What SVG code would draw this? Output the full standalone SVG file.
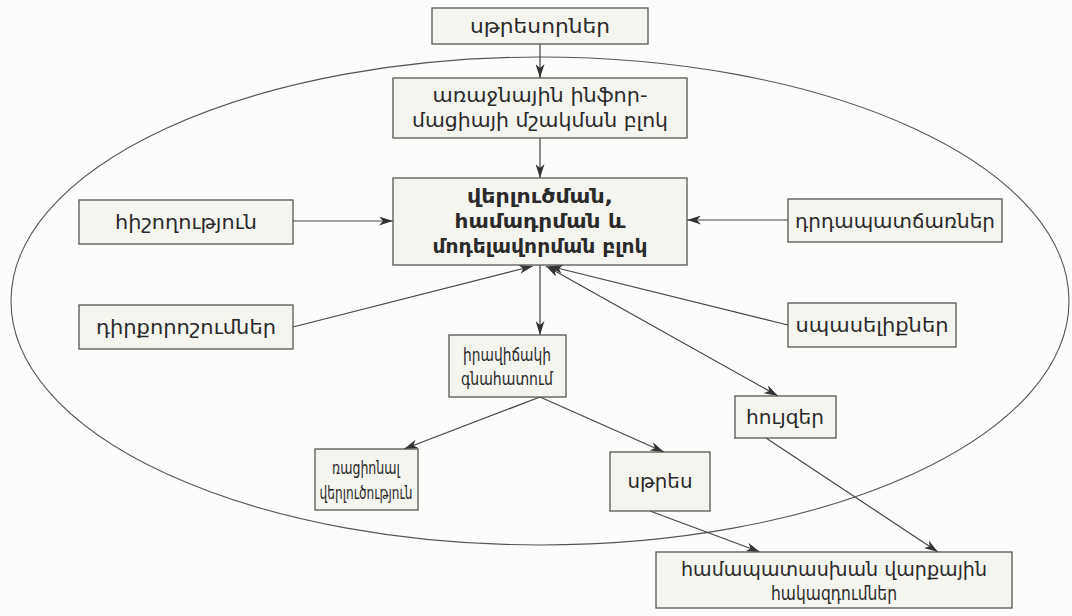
<svg xmlns="http://www.w3.org/2000/svg" width="1072" height="616" viewBox="0 0 1072 616">
<style>
.box{fill:#f5f5f0;stroke:#555;stroke-width:1.3}
.t{font-family:"DejaVu Sans",sans-serif;font-size:20px;fill:#2a2a2a;text-anchor:middle}
.s{font-size:18px}
.b{font-weight:bold}
.c{fill:none;stroke:#444;stroke-width:1.2}
</style>
<defs>
<marker id="ah" viewBox="0 0 14 9" refX="14" refY="4.5" markerWidth="14" markerHeight="9" markerUnits="userSpaceOnUse" orient="auto-start-reverse">
<path d="M0,0 L14,4.5 L0,9 L4,4.5 z" fill="#333"/>
</marker>
</defs>
<rect width="1072" height="616" fill="#fcfcfa"/>
<ellipse cx="540" cy="301" rx="529" ry="244" fill="none" stroke="#555" stroke-width="1.1"/>
<g id="connectors">
<line class="c" x1="540" y1="44" x2="540" y2="78" marker-end="url(#ah)"/>
<line class="c" x1="540" y1="138" x2="540" y2="178" marker-end="url(#ah)"/>
<line class="c" x1="293" y1="221" x2="393" y2="221" marker-end="url(#ah)"/>
<line class="c" x1="788" y1="220" x2="687" y2="220" marker-end="url(#ah)"/>
<line class="c" x1="293" y1="327" x2="533" y2="266" marker-end="url(#ah)"/>
<line class="c" x1="788" y1="325" x2="549" y2="266" marker-end="url(#ah)"/>
<line class="c" x1="540" y1="265" x2="540" y2="335" marker-end="url(#ah)"/>
<line class="c" x1="546" y1="266" x2="778" y2="396" marker-start="url(#ah)" marker-end="url(#ah)"/>
<line class="c" x1="540" y1="397" x2="404" y2="449" marker-end="url(#ah)"/>
<line class="c" x1="540" y1="397" x2="664" y2="452" marker-end="url(#ah)"/>
<line class="c" x1="650" y1="511" x2="760" y2="552" marker-end="url(#ah)"/>
<line class="c" x1="766" y1="438" x2="938" y2="552" marker-end="url(#ah)"/>
</g>
<g id="n-stressors"><rect class="box" x="432" y="8" width="216" height="36"/><text class="t" x="540" y="33" textLength="140" lengthAdjust="spacingAndGlyphs">սթրեսորներ</text></g>
<g id="n-primary"><rect class="box" x="393" y="78" width="294" height="60"/><text class="t" x="540" y="102" textLength="215" lengthAdjust="spacingAndGlyphs">առաջնային ինֆոր-</text><text class="t" x="540" y="127" textLength="256" lengthAdjust="spacingAndGlyphs">մացիայի մշակման բլոկ</text></g>
<g id="n-analysis"><rect class="box" x="393" y="178" width="294" height="87"/><text class="t b" x="540" y="203" textLength="146" lengthAdjust="spacingAndGlyphs">վերլուծման,</text><text class="t b" x="540" y="228" textLength="171" lengthAdjust="spacingAndGlyphs">համադրման և</text><text class="t b" x="540" y="253" textLength="215" lengthAdjust="spacingAndGlyphs">մոդելավորման բլոկ</text></g>
<g id="n-memory"><rect class="box" x="79" y="200" width="214" height="44"/><text class="t" x="186" y="229" textLength="142" lengthAdjust="spacingAndGlyphs">հիշողություն</text></g>
<g id="n-motives"><rect class="box" x="788" y="199" width="214" height="43"/><text class="t" x="895" y="228" textLength="200" lengthAdjust="spacingAndGlyphs">դրդապատճառներ</text></g>
<g id="n-attitudes"><rect class="box" x="79" y="305" width="214" height="44"/><text class="t" x="186" y="334" textLength="180" lengthAdjust="spacingAndGlyphs">դիրքորոշումներ</text></g>
<g id="n-expectations"><rect class="box" x="788" y="303" width="168" height="44"/><text class="t" x="872" y="332" textLength="153" lengthAdjust="spacingAndGlyphs">սպասելիքներ</text></g>
<g id="n-assessment"><rect class="box" x="449" y="335" width="117" height="62"/><text class="t s" x="507" y="361" textLength="88" lengthAdjust="spacingAndGlyphs">իրավիճակի</text><text class="t s" x="507" y="385" textLength="92" lengthAdjust="spacingAndGlyphs">գնահատում</text></g>
<g id="n-emotions"><rect class="box" x="735" y="396" width="101" height="42"/><text class="t" x="785" y="424" textLength="78" lengthAdjust="spacingAndGlyphs">հույզեր</text></g>
<g id="n-rational"><rect class="box" x="315" y="449" width="103" height="61"/><text class="t s" x="366" y="474" textLength="68" lengthAdjust="spacingAndGlyphs">ռացիոնալ</text><text class="t s" x="366" y="499" textLength="93" lengthAdjust="spacingAndGlyphs">վերլուծություն</text></g>
<g id="n-stress"><rect class="box" x="610" y="452" width="100" height="59"/><text class="t" x="660" y="488" textLength="65" lengthAdjust="spacingAndGlyphs">սթրես</text></g>
<g id="n-behavior"><rect class="box" x="656" y="552" width="356" height="56"/><text class="t" x="834" y="576" textLength="306" lengthAdjust="spacingAndGlyphs">համապատասխան վարքային</text><text class="t" x="834" y="600" textLength="126" lengthAdjust="spacingAndGlyphs">հակազդումներ</text></g>
</svg>
